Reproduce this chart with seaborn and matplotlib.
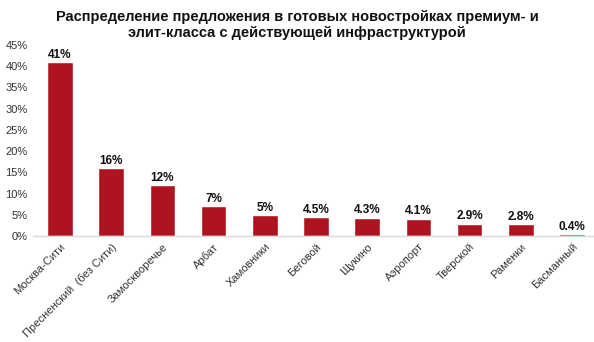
import matplotlib
matplotlib.use("Agg")
import matplotlib.pyplot as plt
import seaborn as sns
import pandas as pd
from matplotlib.ticker import FuncFormatter

districts = ["Москва-Сити", "Пресненский  (без Сити)", "Замоскворечье", "Арбат",
             "Хамовники", "Беговой", "Щукино", "Аэропорт", "Тверской", "Раменки",
             "Басманный"]
shares = [41, 16, 12, 7, 5, 4.5, 4.3, 4.1, 2.9, 2.8, 0.4]
value_labels = ["41%", "16%", "12%", "7%", "5%", "4.5%", "4.3%", "4.1%", "2.9%", "2.8%", "0.4%"]

df = pd.DataFrame({"district": districts, "share": shares})

sns.set_style("white")
plt.rcParams["font.family"] = ["Liberation Sans", "DejaVu Sans"]

fig = plt.figure(figsize=(5.94, 3.42), dpi=100)
ax = fig.add_axes([33 / 594, 106 / 342, 561 / 594, 191 / 342])

bar_color = "#AE1420"
sns.barplot(data=df, x="district", y="share", color=bar_color, width=0.5,
            saturation=1, ax=ax)

for i, (v, lab) in enumerate(zip(shares, value_labels)):
    ax.text(i, v + 0.3, lab, ha="center", va="bottom", fontsize=8.5,
            fontweight="bold", color="#111111")

ax.set_ylim(0, 45)
ax.set_xlim(-0.527, 10.43)
ax.set_yticks(range(0, 46, 5))
ax.yaxis.set_major_formatter(FuncFormatter(lambda y, _: f"{int(y)}%"))
ax.tick_params(axis="y", labelsize=8, colors="#333333", length=0, pad=4)
ax.tick_params(axis="x", labelsize=8, colors="#333333", length=0, pad=4)
ax.set_xticks(range(len(districts)))
ax.set_xticklabels(districts, rotation=45, ha="right", rotation_mode="anchor")
ax.set_xlabel("")
ax.set_ylabel("")

for s in ["top", "right", "left"]:
    ax.spines[s].set_visible(False)
ax.spines["bottom"].set_color("#D9D9D9")
ax.spines["bottom"].set_linewidth(1)

fig.text(0.5, 1 - 10 / 342,
         "Распределение предложения в готовых новостройках премиум- и\nэлит-класса с действующей инфраструктурой",
         ha="center", va="top", fontsize=10.5, fontweight="bold", color="#111111",
         linespacing=1.2)

fig.savefig("out.png", dpi=100)
